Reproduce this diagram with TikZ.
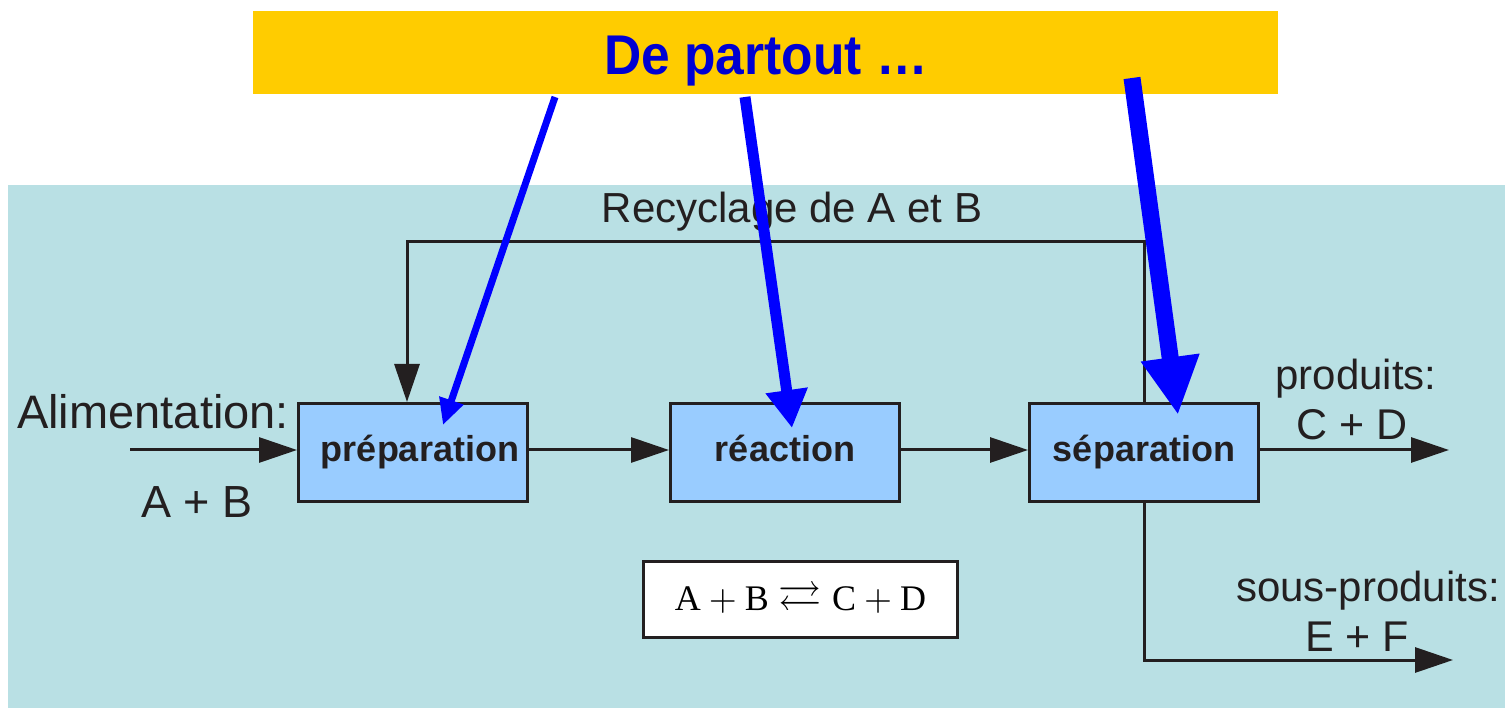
\documentclass[tikz,border=0pt]{standalone}
\usepackage{fontspec}
\usepackage{amssymb}
\usepackage{graphicx}
\usetikzlibrary{arrows.meta}
\newfontfamily\arial{Liberation Sans}
\newfontfamily\arialnarrow[FakeStretch=0.92]{Liberation Sans}
\newfontfamily\tnr{Liberation Serif}
\definecolor{panel}{RGB}{185,224,228}
\definecolor{banner}{RGB}{255,204,0}
\definecolor{boxfill}{RGB}{153,204,255}
\definecolor{ink}{RGB}{35,31,32}
\definecolor{pointer}{RGB}{0,0,255}
\definecolor{headline}{RGB}{0,0,210}

\begin{document}
\begin{tikzpicture}[x=1pt,y=-1pt,
  stage/.style={draw=ink, line width=3pt, fill=boxfill,
    minimum width=229pt, minimum height=98pt, inner sep=0pt,
    font=\arial\bfseries\fontsize{36}{40}\selectfont, text=ink,
    text height=30pt, text depth=12pt},
  pipe/.style={draw=ink, line width=3pt},
  flow/.style={pipe, -{Triangle[length=38pt,width=25pt]}},
  lbl/.style={font=\arial\fontsize{42}{48}\selectfont, text=ink,
    inner sep=0pt, anchor=base},
  pointerarrow/.style={draw=pointer, line width=#1}
]
\useasboundingbox (0,0) rectangle (1505,708);
\fill[white] (0,0) rectangle (1505,708);
\fill[panel] (8,185) rectangle (1505,708);

% headline banner
\node[fill=banner, minimum width=1025pt, minimum height=83pt, inner sep=0pt]
  (banner) at (765.5,52.5) {};
\node[anchor=base, inner sep=0pt, text=headline,
  font=\arialnarrow\bfseries\fontsize{56}{62}\selectfont]
  (title) at (766,75) {De partout …};

% process stages
\node[stage] (prep) at (413,452.5) {\hspace*{14pt}préparation};
\node[stage] (reac) at (785,452.5) {réaction};
\node[stage] (sep)  at (1144,452.5) {séparation};

% main line
\coordinate (feed) at (130,450);
\coordinate (prodEnd) at (1449,450);
\coordinate (byEnd) at (1453,660);
\draw[flow] (feed) -- (feed -| prep.west);
\draw[flow] (prep.east |- feed) -- (reac.west |- feed);
\draw[flow] (reac.east |- feed) -- (sep.west |- feed);
\draw[flow] (sep.east |- feed) -- (prodEnd);
\draw[flow] (sep.south) |- (byEnd);

% recycle loop
\coordinate (loopR) at (1144,242);
\coordinate (loopL) at (407,242);
\draw[flow] (sep.north) -- (loopR) -- (loopL) -- (loopL |- prep.north);

% labels
\node[lbl] (recy) at (792,223) {Recyclage de A et B};
\node[lbl, anchor=base west, font=\arial\fontsize{47}{52}\selectfont]
  (feedlbl) at (17,429) {Alimentation:};
\node[lbl, font=\arial\fontsize{45}{50}\selectfont] (feedAB) at (197,517) {A + B};
\node[lbl] (prodlbl) at (1356,390) {produits:};
\node[lbl, font=\arial\fontsize{43}{48}\selectfont] (prodCD) at (1352,439) {C + D};
\node[lbl] (bylbl) at (1368,601) {sous-produits:};
\node[lbl, font=\arial\fontsize{43}{48}\selectfont] (byEF) at (1357,651) {E + F};

% reaction equation
\node[draw=ink, line width=2.5pt, fill=white, minimum width=314pt,
  minimum height=76pt, inner sep=0pt] (eq) at (800.5,599.5)
  {\scalebox{3.6}{\tnr A${}+{}$B${}\mathrel{\scalebox{1.2}{$\rightleftarrows$}}{}$C${}+{}$D}};

% pointers from the banner
\coordinate (p1s) at (555,97);   \coordinate (p1e) at (443,425);
\coordinate (p2s) at (745,97);   \coordinate (p2e) at (792,428);
\coordinate (p3s) at (1132,78);  \coordinate (p3e) at (1178,415);
\draw[pointerarrow=7pt, -{Triangle[length=26pt,width=24pt]}] (p1s) -- (p1e);
\draw[pointerarrow=11pt, -{Triangle[length=38pt,width=40pt]}] (p2s) -- (p2e);
\draw[pointerarrow=17pt, -{Triangle[length=58pt,width=55pt]}] (p3s) -- (p3e);
\end{tikzpicture}
\end{document}
